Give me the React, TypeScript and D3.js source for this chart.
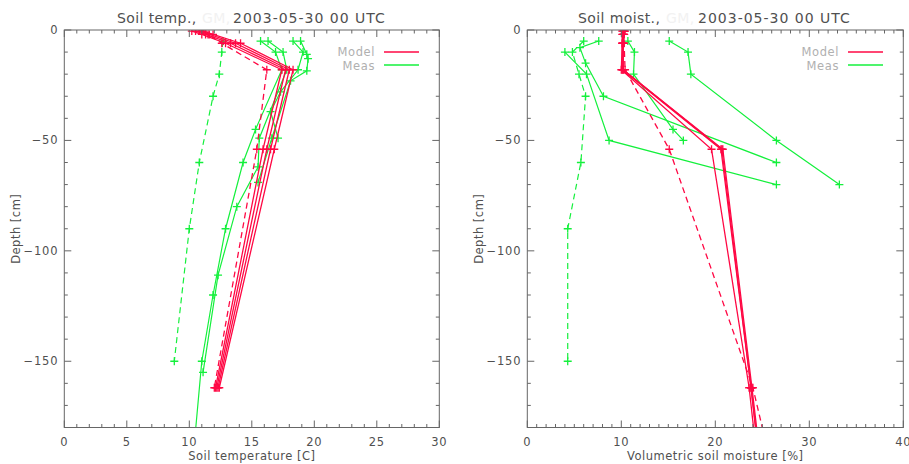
import React from "react";
import * as d3 from "d3";

// ---------- DATA ----------
// Soil temperature panel
const tempModelDepths = [-0.5, -2, -6, -18, -54, -162];
const tempModel1 = [10.2, 11.0, 12.9, 17.4, 15.9, 12.1];
const tempModel2 = [10.5, 11.3, 13.3, 17.7, 16.2, 12.2];
const tempModel3 = [10.8, 11.6, 13.7, 18.0, 16.5, 12.3];
const tempModel4 = [11.1, 11.9, 14.1, 18.3, 16.8, 12.4];
const tempModelDashed = [11.0, 11.5, 12.6, 16.2, 15.4, 12.0];

const tempMeasADepths = [-5, -10, -18, -45, -60, -90, -120, -150, -200];
const tempMeasA = [15.7, 16.9, 17.4, 15.3, 14.3, 12.9, 11.9, 11.0, 10.2];
const tempMeasBDepths = [-5, -10, -18, -49, -62, -80, -111, -155];
const tempMeasB = [16.3, 17.5, 17.8, 15.6, 15.5, 13.8, 12.3, 11.1];
const tempMeasCDepths = [-5, -10, -18, -28, -37, -49];
const tempMeasC = [18.3, 19.1, 18.7, 17.3, 16.5, 17.1];
const tempMeasDDepths = [-5, -11, -13, -18.5, -23, -49, -69];
const tempMeasD = [18.9, 19.4, 19.5, 19.4, 18.1, 16.6, 15.5];
const tempMeasDashedDepths = [-5, -10, -20, -30, -60, -90, -150];
const tempMeasDashed = [12.7, 12.6, 12.4, 11.9, 10.8, 10.0, 8.8];

// Soil moisture panel
const moistModelDepths = [-0.5, -2, -6, -18, -54, -162, -486];
const moistModel1 = [10.1, 10.1, 10.1, 10.0, 19.6, 23.6, 32.0];
const moistModel2 = [10.2, 10.2, 10.1, 10.1, 20.6, 23.8, 32.5];
const moistModel3 = [10.3, 10.2, 10.2, 10.2, 20.8, 23.9, 32.8];
const moistModel4 = [10.4, 10.3, 10.2, 10.2, 20.7, 23.8, 32.6];
const moistModelDashed = [10.3, 10.3, 10.3, 10.4, 15.1, 24.0, 42.0];

const moistMeasADepths = [-5, -10, -20, -50, -70];
const moistMeasA = [15.1, 17.1, 17.4, 26.5, 33.2];
const moistMeasBDepths = [-5, -10, -20, -45, -50];
const moistMeasB = [10.7, 11.4, 11.3, 15.5, 16.6];
const moistMeasCDepths = [-5, -8, -15, -30, -60];
const moistMeasC = [7.6, 5.6, 6.2, 8.1, 26.5];
const moistMeasDDepths = [-10, -20, -50, -70];
const moistMeasD = [4.0, 6.3, 8.7, 26.5];
const moistMeasDashedDepths = [-5, -10, -20, -30, -60, -90, -150];
const moistMeasDashed = [6.0, 4.8, 5.5, 6.2, 5.7, 4.3, 4.3];

const depthTicks = [0, -50, -100, -150];
const tempTicks = [0, 5, 10, 15, 20, 25, 30];
const moistTicks = [0, 10, 20, 30, 40];
const legendLabels = ["Model", "Meas"];

// ---------- STYLE ----------
const RED = "#ff0844";
const GREEN = "#14f03c";
const AXIS = "#666";
const TXT = "#505050";
const FONT = "'DejaVu Sans', 'Liberation Sans', sans-serif";

type Series = { depths: number[]; values: number[]; color: string; dashed: boolean; width: number };

const mk = (depths: number[], values: number[], color: string, dashed: boolean, width: number): Series => ({
  depths,
  values,
  color,
  dashed,
  width,
});

const tempSeries: Series[] = [
  mk(tempMeasADepths, tempMeasA, GREEN, false, 1.2),
  mk(tempMeasBDepths, tempMeasB, GREEN, false, 1.2),
  mk(tempMeasCDepths, tempMeasC, GREEN, false, 1.2),
  mk(tempMeasDDepths, tempMeasD, GREEN, false, 1.2),
  mk(tempMeasDashedDepths, tempMeasDashed, GREEN, true, 1.2),
  mk(tempModelDepths, tempModel1, RED, false, 1.3),
  mk(tempModelDepths, tempModel2, RED, false, 1.3),
  mk(tempModelDepths, tempModel3, RED, false, 1.3),
  mk(tempModelDepths, tempModel4, RED, false, 1.3),
  mk(tempModelDepths, tempModelDashed, RED, true, 1.3),
];

const moistSeries: Series[] = [
  mk(moistMeasADepths, moistMeasA, GREEN, false, 1.2),
  mk(moistMeasBDepths, moistMeasB, GREEN, false, 1.2),
  mk(moistMeasCDepths, moistMeasC, GREEN, false, 1.2),
  mk(moistMeasDDepths, moistMeasD, GREEN, false, 1.2),
  mk(moistMeasDashedDepths, moistMeasDashed, GREEN, true, 1.2),
  mk(moistModelDepths, moistModel1, RED, false, 1.3),
  mk(moistModelDepths, moistModel2, RED, false, 1.3),
  mk(moistModelDepths, moistModel3, RED, false, 1.3),
  mk(moistModelDepths, moistModel4, RED, false, 1.3),
  mk(moistModelDepths, moistModelDashed, RED, true, 1.3),
];

const TOP = 30;
const BOTTOM = 427.5;

type PanelProps = {
  id: string;
  x0: number;
  x1: number;
  xMax: number;
  xTicks: number[];
  minorStep: number;
  series: Series[];
  titleA: string;
  titleAx: number;
  gmX: number;
  dateX: number;
  xLabel: string;
  legendX: number;
  yLabelX: number;
};

function Panel(p: PanelProps) {
  const x = d3.scaleLinear().domain([0, p.xMax]).range([p.x0, p.x1]);
  const y = d3.scaleLinear().domain([0, -180]).range([TOP, BOTTOM]);
  const line = d3
    .line<[number, number]>()
    .x((d) => x(d[0]))
    .y((d) => y(d[1]));
  const minor = d3.range(0, p.xMax + 0.001, p.minorStep);
  const yMinor = d3.range(0, -180.001, -10);
  const clipId = "clip-" + p.id;
  const cross = 4;
  return (
    <g>
      <defs>
        <clipPath id={clipId}>
          <rect x={p.x0} y={TOP} width={p.x1 - p.x0} height={BOTTOM - TOP} />
        </clipPath>
      </defs>
      {/* title */}
      <text x={p.titleAx} y={23} fontSize={14} fill={TXT} fontFamily={FONT} letterSpacing={0.4}>
        {p.titleA}
      </text>
      <text x={p.gmX} y={23} fontSize={14} fill="#f2f2f2" fontFamily={FONT} letterSpacing={0.4}>
        GM,
      </text>
      <text x={p.dateX} y={23} fontSize={14} fill={TXT} fontFamily={FONT} letterSpacing={1}>
        2003-05-30 00 UTC
      </text>
      {/* data */}
      <g clipPath={`url(#${clipId})`}>
        {p.series.map((s, i) => {
          const pts: [number, number][] = s.values.map((v, k) => [v, s.depths[k]]);
          return (
            <g key={i}>
              <path
                d={line(pts) || ""}
                fill="none"
                stroke={s.color}
                strokeWidth={s.width}
                strokeDasharray={s.dashed ? "6,4" : undefined}
              />
              {pts.map((q, k) => (
                <path
                  key={k}
                  d={`M${x(q[0]) - cross},${y(q[1])}H${x(q[0]) + cross}M${x(q[0])},${y(q[1]) - cross}V${y(q[1]) + cross}`}
                  stroke={s.color}
                  strokeWidth={1.3}
                />
              ))}
            </g>
          );
        })}
      </g>
      {/* frame */}
      <rect x={p.x0} y={TOP} width={p.x1 - p.x0} height={BOTTOM - TOP} fill="none" stroke={AXIS} strokeWidth={1} />
      {/* x ticks */}
      {minor.map((t, i) => {
        const major = p.xTicks.some((m) => Math.abs(m - t) < 1e-6);
        const L = major ? 7 : 3.5;
        return (
          <g key={"xt" + i}>
            <line x1={x(t)} x2={x(t)} y1={BOTTOM} y2={BOTTOM - L} stroke={AXIS} />
            <line x1={x(t)} x2={x(t)} y1={TOP} y2={TOP + L} stroke={AXIS} />
          </g>
        );
      })}
      {p.xTicks.map((t) => (
        <text key={"xl" + t} x={x(t)} y={445.5} fontSize={11.5} fill={TXT} textAnchor="middle" fontFamily={FONT} letterSpacing={0.8}>
          {t}
        </text>
      ))}
      {/* y ticks */}
      {yMinor.map((t, i) => {
        const major = depthTicks.some((m) => Math.abs(m - t) < 1e-6);
        const L = major ? 7 : 3.5;
        return (
          <g key={"yt" + i}>
            <line x1={p.x0} x2={p.x0 + L} y1={y(t)} y2={y(t)} stroke={AXIS} />
            <line x1={p.x1} x2={p.x1 - L} y1={y(t)} y2={y(t)} stroke={AXIS} />
          </g>
        );
      })}
      {depthTicks.map((t) => (
        <text key={"yl" + t} x={p.x0 - 6} y={y(t) + 4} fontSize={11.5} fill={TXT} textAnchor="end" fontFamily={FONT} letterSpacing={0.8}>
          {t === 0 ? "0" : "\u2212" + Math.abs(t)}
        </text>
      ))}
      {/* axis labels */}
      <text x={(p.x0 + p.x1) / 2} y={460} fontSize={11.5} fill={TXT} textAnchor="middle" fontFamily={FONT} letterSpacing={0.5}>
        {p.xLabel}
      </text>
      <text
        transform={`translate(${p.yLabelX},${(TOP + BOTTOM) / 2}) rotate(-90)`}
        fontSize={11.5}
        fill={TXT}
        textAnchor="middle"
        fontFamily={FONT}
        letterSpacing={0.5}
      >
        Depth [cm]
      </text>
      {/* legend */}
      <text x={p.legendX} y={56} fontSize={11.5} fill="#b0b0b0" textAnchor="end" fontFamily={FONT} letterSpacing={0.6}>
        {legendLabels[0]}
      </text>
      <line x1={p.legendX + 9} x2={p.legendX + 44} y1={52} y2={52} stroke={RED} strokeWidth={1.5} />
      <text x={p.legendX} y={69.5} fontSize={11.5} fill="#b0b0b0" textAnchor="end" fontFamily={FONT} letterSpacing={0.6}>
        {legendLabels[1]}
      </text>
      <line x1={p.legendX + 9} x2={p.legendX + 44} y1={65} y2={65} stroke={GREEN} strokeWidth={1.3} />
    </g>
  );
}

export default function App() {
  return (
    <svg
      width={909}
      height={464}
      style={{ position: "absolute", left: 0, top: 0, background: "#fff", display: "block" }}
    >
      <rect x={0} y={0} width={909} height={464} fill="#fff" />
      <Panel
        id="temp"
        x0={64.3}
        x1={439.3}
        xMax={30}
        xTicks={tempTicks}
        minorStep={1}
        series={tempSeries}
        titleA="Soil temp.,"
        titleAx={117}
        gmX={202}
        dateX={233}
        xLabel="Soil temperature [C]"
        legendX={375}
        yLabelX={20}
      />
      <Panel
        id="moist"
        x0={527.3}
        x1={903.3}
        xMax={40}
        xTicks={moistTicks}
        minorStep={1}
        series={moistSeries}
        titleA="Soil moist.,"
        titleAx={578}
        gmX={666}
        dateX={698}
        xLabel="Volumetric soil moisture [%]"
        legendX={839}
        yLabelX={483}
      />
    </svg>
  );
}
